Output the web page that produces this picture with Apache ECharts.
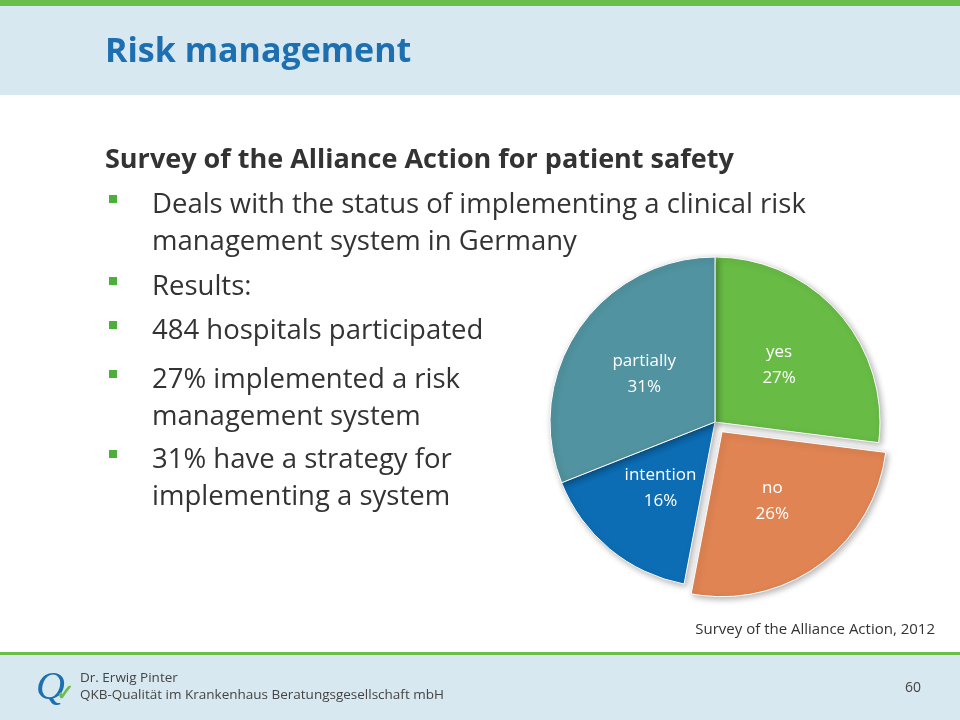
<!DOCTYPE html>
<html>
<head>
<meta charset="utf-8">
<style>*{margin:0;padding:0}#c{width:960px;height:720px}</style>
</head>
<body>
<div id="c"></div>
<script src="https://cdn.jsdelivr.net/npm/echarts@6/dist/echarts.min.js"></script>
<script>
var labels = ['yes', 'no', 'intention', 'partially'];
var values = [27, 26, 16, 31];
var colors = ['#68bb45', '#e08453', '#0d6db4', '#5193a0'];
var bullets = [
  ['Deals with the status of implementing a clinical risk', 'management system in Germany'],
  ['Results:'],
  ['484 hospitals participated'],
  ['27% implemented a risk', 'management system'],
  ['31% have a strategy for', 'implementing a system']
];
var bulletY = [205, 287, 331, 380, 460];

var font = '"Open Sans", "Noto Sans", sans-serif';
var chart = echarts.init(document.getElementById('c'));
var g = [
  {type: 'rect', shape: {x: 0, y: 0, width: 960, height: 95}, style: {fill: '#d8e8f0'}},
  {type: 'rect', shape: {x: 0, y: 0, width: 960, height: 6}, style: {fill: '#6abf4b'}},
  {type: 'text', x: 105, y: 52, style: {text: 'Risk management', font: 'bold 34px ' + font, fill: '#1d6fb0', verticalAlign: 'middle'}},
  {type: 'text', x: 105, y: 160, style: {text: 'Survey of the Alliance Action for patient safety', font: 'bold 27px ' + font, fill: '#333', verticalAlign: 'middle'}},
  {type: 'text', x: 935, y: 630, style: {text: 'Survey of the Alliance Action, 2012', font: '15px ' + font, fill: '#333', align: 'right', verticalAlign: 'middle'}},
  {type: 'rect', shape: {x: 0, y: 652, width: 960, height: 68}, style: {fill: '#d8e8f0'}},
  {type: 'rect', shape: {x: 0, y: 652, width: 960, height: 3}, style: {fill: '#6abf4b'}},
  {type: 'text', x: 80, y: 678, style: {text: 'Dr. Erwig Pinter', font: '13.5px ' + font, fill: '#444', verticalAlign: 'middle'}},
  {type: 'text', x: 80, y: 695, style: {text: 'QKB-Qualität im Krankenhaus Beratungsgesellschaft mbH', font: '13.5px ' + font, fill: '#444', verticalAlign: 'middle'}},
  {type: 'text', x: 905, y: 688, style: {text: '60', font: '14px ' + font, fill: '#444', verticalAlign: 'middle'}},
  {type: 'text', x: 36, y: 688, style: {text: 'Q', font: 'italic 40px serif', fill: '#1d6fb0', verticalAlign: 'middle'}},
  {type: 'text', x: 56, y: 694, style: {text: '✓', font: 'bold 22px ' + font, fill: '#6abf4b', verticalAlign: 'middle'}}
];
bullets.forEach(function (b, i) {
  g.push({type: 'rect', shape: {x: 109, y: bulletY[i] - 10, width: 8, height: 8}, style: {fill: '#4caf3c'}});
  b.forEach(function (line, j) {
    g.push({type: 'text', x: 152, y: bulletY[i] + j * 37, style: {text: line, font: '27.5px ' + font, fill: '#333', verticalAlign: 'middle'}});
  });
});

chart.setOption({
  animation: false,
  backgroundColor: '#fff',
  graphic: g,
  series: [{
    type: 'pie',
    center: [715, 422],
    radius: 165,
    startAngle: 90,
    selectedMode: 'single',
    selectedOffset: 12,
    label: {position: 'inside', color: '#fff', fontSize: 17, fontFamily: font, lineHeight: 26, formatter: function (p) { return p.name + '\n' + p.value + '%'; }},
    itemStyle: {borderColor: '#fff', borderWidth: 1, shadowBlur: 6, shadowColor: 'rgba(0,0,0,0.3)', shadowOffsetX: 2, shadowOffsetY: 2},
    data: labels.map(function (n, i) {
      return {name: n, value: values[i], selected: n === 'no', itemStyle: {color: colors[i]}};
    })
  }]
});
</script>
</body>
</html>
